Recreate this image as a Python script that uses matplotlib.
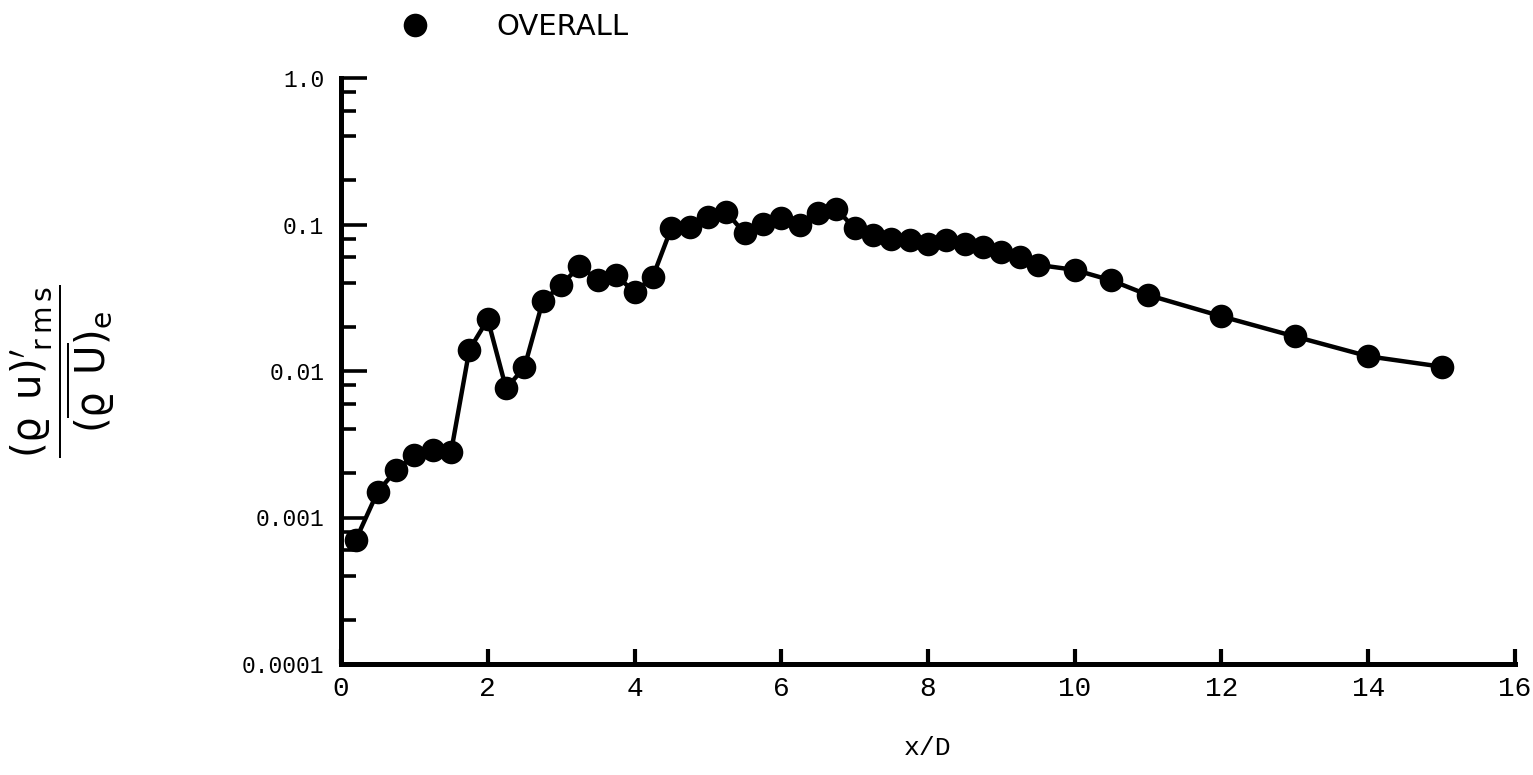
import matplotlib
matplotlib.use("Agg")
import matplotlib.pyplot as plt
from matplotlib.ticker import FixedLocator, FixedFormatter, LogLocator, NullFormatter

# Streamwise stations x/D and the overall rms mass-flux fluctuation level
x_over_d = [0.2, 0.5, 0.75, 1.0, 1.25, 1.5, 1.75, 2.0, 2.25, 2.5, 2.75, 3.0,
            3.25, 3.5, 3.75, 4.0, 4.25, 4.5, 4.75, 5.0, 5.25, 5.5, 5.75, 6.0,
            6.25, 6.5, 6.75, 7.0, 7.25, 7.5, 7.75, 8.0, 8.25, 8.5, 8.75, 9.0,
            9.25, 9.5, 10.0, 10.5, 11.0, 12.0, 13.0, 14.0, 15.0]
overall = [7.0e-4, 1.5e-3, 2.1e-3, 2.65e-3, 2.9e-3, 2.8e-3, 1.4e-2, 2.25e-2,
           7.6e-3, 1.06e-2, 3.0e-2, 3.85e-2, 5.2e-2, 4.2e-2, 4.5e-2, 3.45e-2,
           4.4e-2, 9.4e-2, 9.6e-2, 0.113, 0.122, 0.087, 0.101, 0.11, 0.099,
           0.119, 0.128, 0.094, 0.085, 0.080, 0.078, 0.074, 0.078, 0.074,
           0.070, 0.065, 0.060, 0.053, 0.049, 0.0415, 0.033, 0.0236, 0.0172,
           0.0126, 0.0107]

series_label = "OVERALL"
x_ticks = [0, 2, 4, 6, 8, 10, 12, 14, 16]
x_tick_labels = ["0", "2", "4", "6", "8", "10", "12", "14", "16"]
y_ticks = [1e-4, 1e-3, 1e-2, 1e-1, 1.0]
y_tick_labels = ["0.0001", "0.001", "0.01", "0.1", "1.0"]

plt.rcParams["mathtext.fontset"] = "dejavusans"

W, H = 1533, 775
fig = plt.figure(figsize=(W / 100, H / 100), dpi=100)
fig.patch.set_facecolor("white")

# axes box placed in pixel terms
left, right, bottom, top = 341, 1515, 664, 78
ax = fig.add_axes([left / W, 1 - bottom / H, (right - left) / W, (bottom - top) / H])

line, = ax.plot(x_over_d, overall, color="black", lw=3.2, marker="o",
                markersize=17, markeredgewidth=0, solid_joinstyle="round",
                label=series_label, clip_on=False, zorder=3)

ax.set_yscale("log")
ax.set_xlim(0, 16)
ax.set_ylim(1e-4, 1.0)

for side in ("top", "right"):
    ax.spines[side].set_visible(False)
for side in ("left", "bottom"):
    ax.spines[side].set_linewidth(3.6)
    ax.spines[side].set_capstyle("projecting")

mono = "Liberation Mono"

ax.xaxis.set_major_locator(FixedLocator(x_ticks))
ax.xaxis.set_major_formatter(FixedFormatter(x_tick_labels))
ax.yaxis.set_major_locator(FixedLocator(y_ticks))
ax.yaxis.set_major_formatter(FixedFormatter(y_tick_labels))
ax.yaxis.set_minor_locator(LogLocator(base=10, subs=(2, 4, 6, 8)))
ax.yaxis.set_minor_formatter(NullFormatter())

ax.tick_params(axis="x", which="major", direction="in", length=11, width=3,
               pad=9, labelsize=20)
ax.tick_params(axis="y", which="major", direction="in", length=19, width=2.6,
               pad=12, labelsize=16.5)
ax.tick_params(axis="y", which="minor", direction="in", length=11, width=2.6)
for lab in ax.get_xticklabels() + ax.get_yticklabels():
    lab.set_fontfamily(mono)

ax.set_xlabel("x/D", fontfamily=mono, fontsize=19, labelpad=24)

ylabel_tex = (r"$\dfrac{\mathrm{(\varrho\;\,u)}^{\prime}_{\;\mathrm{r\,m\,s}}}"
              r"{\mathrm{(}\overline{\mathrm{\varrho\;\,U}}\mathrm{)}_{\mathrm{e}}}$")
ax.text(-0.238, 0.5, ylabel_tex, transform=ax.transAxes, rotation=90,
        ha="center", va="center", fontsize=29)

ax.legend(handles=[line], labels=[series_label], loc="center left",
          bbox_to_anchor=(415 / W, 1 - 27 / H), bbox_transform=fig.transFigure,
          frameon=False, handlelength=0, handletextpad=2.8, borderpad=0,
          borderaxespad=0, numpoints=1, prop={"family": "DejaVu Sans", "size": 21})

fig.savefig("out.png", dpi=100, facecolor="white")
